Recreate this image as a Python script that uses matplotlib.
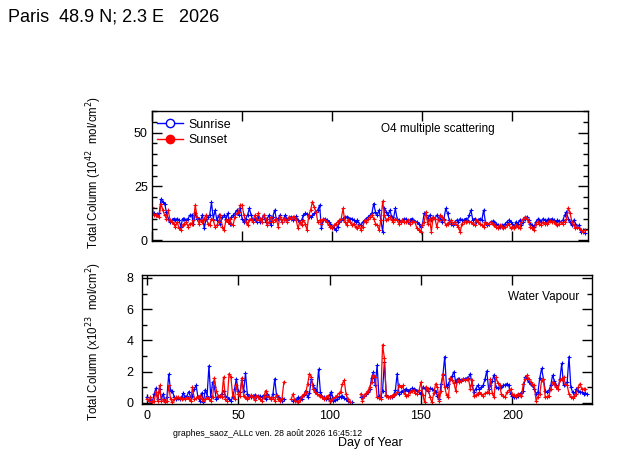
import numpy as np
import matplotlib.pyplot as plt
from matplotlib.lines import Line2D
from matplotlib.ticker import MultipleLocator

plt.rcParams['font.family'] = ['Liberation Sans', 'DejaVu Sans']

'''
SAOZ Paris - O4 and water vapour total columns, sunrise / sunset
'''

title = 'Paris  48.9 N; 2.3 E   2026'
footer = 'graphes_saoz_ALLc ven. 28 août 2026 16:45:12'

# ---- O4 multiple scattering (10^42 mol/cm2), day 0 .. 240 ----
o4_start = 0
o4_sunrise = [
    12.4, 12.4, 11.6, 12.0, 12.4, 19.0, 17.8, 17.0, 13.0, 10.0,
    8.5, 9.3, 10.0, 9.5, 10.0, 9.3, 6.2, 10.0, 10.0, 9.3,
    10.0, 11.6, 11.6, 7.7, 12.4, 10.0, 10.0, 9.3, 11.6, 5.4,
    10.0, 10.8, 11.6, 17.5, 10.0, 13.9, 9.3, 11.6, 7.7, 10.8,
    11.6, 10.0, 12.4, 7.7, 10.8, 11.6, 12.4, 13.9, 11.6, 14.7,
    10.0, 8.5, 10.0, 11.6, 14.7, 11.6, 9.3, 10.0, 8.5, 10.8,
    8.5, 10.0, 11.6, 8.5, 10.0, 11.6, 7.0, 10.8, 13.9, 10.0,
    10.0, 11.6, 8.5, 10.0, 11.6, 9.3, 10.4, 10.8, 9.3, 10.4,
    11.0, 9.3, 8.5, 9.3, 11.6, 12.4, 12.0, 10.8, 10.8, 11.6,
    12.4, 13.1, 14.0, 16.2, 5.4, 9.3, 10.0, 9.3, 8.5, 7.7,
    6.2, 5.4, 4.6, 6.2, 8.5, 9.3, 10.0, 10.8, 10.8, 10.4,
    10.0, 10.0, 9.3, 8.5, 9.3, 7.7, 7.0, 8.5, 9.3, 10.0,
    10.8, 11.6, 12.4, 17.0, 13.1, 11.6, 13.9, 9.3, 3.9, 14.7,
    13.1, 11.6, 13.9, 10.8, 10.0, 14.7, 10.0, 9.3, 8.5, 9.3,
    10.0, 9.7, 8.5, 9.3, 10.0, 9.3, 8.5, 8.5, 7.7, 6.2,
    7.0, 12.4, 11.6, 10.0, 11.6, 9.3, 10.8, 10.0, 11.6, 10.4,
    10.0, 8.5, 10.0, 14.7, 12.4, 9.3, 7.7, 7.0, 8.5, 9.3,
    8.5, 10.0, 9.3, 9.3, 10.0, 9.3, 11.6, 13.9, 9.3, 10.0,
    8.5, 9.3, 10.0, 9.3, 13.9, 8.5, 7.0, 7.7, 8.5, 8.8,
    8.5, 7.7, 7.0, 6.2, 7.0, 6.6, 7.7, 8.5, 9.3, 8.5,
    7.7, 6.2, 8.5, 7.7, 9.3, 7.0, 8.5, 10.0, 10.8, 9.3,
    7.7, 7.0, 6.2, 8.5, 9.7, 9.3, 8.5, 10.0, 9.3, 8.5,
    10.0, 9.3, 10.0, 9.3, 8.5, 9.3, 8.8, 8.5, 9.3, 11.6,
    13.1, 10.0, 8.5, 7.0, 9.3, 7.7, 6.2, 7.0, 3.9, 4.5,
    3.2,
]
o4_sunset = [
    15.5, 11.6, 11.6, 11.6, 10.8, 17.0, 13.9, 11.6, 10.0, 13.9,
    9.3, 8.5, 7.7, 6.2, 8.5, 5.4, 4.6, 7.0, 7.7, 8.5,
    6.2, 7.7, 7.7, 9.3, 16.2, 10.8, 7.7, 9.3, 8.5, 10.0,
    11.6, 7.7, 7.0, 10.0, 9.3, 6.2, 7.0, 8.5, 11.6, 6.2,
    4.6, 9.3, 8.5, 10.0, 7.7, 7.0, 10.8, 12.4, 13.1, 16.2,
    16.2, 11.6, 8.5, 7.0, 9.3, 10.0, 8.5, 11.6, 9.3, 12.4,
    10.0, 8.5, 11.6, 10.0, 7.0, 8.5, 10.8, 8.5, 9.3, 10.0,
    6.2, 10.8, 8.5, 10.0, 10.0, 8.5, 10.8, 10.0, 10.8, 10.8,
    9.3, 5.4, 8.5, 7.0, 9.3, 7.7, 4.6, 11.6, 13.9, 17.8,
    15.5, 13.1, 8.5, 9.3, 7.7, 10.0, 9.3, 8.5, 7.0, 6.2,
    5.4, 7.0, 7.7, 8.5, 9.3, 10.0, 14.7, 8.5, 7.0, 9.3,
    8.5, 7.0, 7.7, 6.2, 5.4, 7.0, 4.6, 6.2, 9.3, 8.5,
    10.0, 10.8, 11.6, 10.0, 7.7, 7.0, 4.6, 9.3, 18.1, 11.6,
    9.3, 10.0, 10.8, 9.3, 8.5, 10.0, 9.3, 7.7, 8.5, 9.3,
    8.5, 8.2, 9.3, 7.7, 8.5, 8.8, 8.2, 5.4, 4.6, 3.9,
    7.0, 8.5, 13.1, 7.7, 10.0, 3.9, 10.8, 10.0, 6.2, 9.3,
    11.6, 10.8, 9.3, 7.0, 7.7, 8.5, 9.3, 7.7, 8.5, 7.0,
    6.2, 3.6, 7.7, 8.5, 8.2, 8.8, 8.5, 8.5, 7.7, 7.0,
    9.3, 8.5, 7.7, 7.0, 6.2, 8.5, 7.7, 7.7, 8.5, 7.7,
    7.0, 6.2, 5.4, 7.0, 6.2, 5.4, 6.2, 7.0, 7.7, 5.4,
    6.2, 5.4, 7.0, 6.2, 5.4, 8.5, 10.0, 10.8, 10.0, 8.5,
    6.2, 5.4, 4.6, 7.7, 8.5, 7.7, 7.0, 8.5, 7.7, 7.7,
    8.5, 8.8, 8.2, 8.5, 7.7, 7.0, 7.7, 8.5, 7.7, 8.5,
    10.0, 15.0, 12.4, 8.5, 7.0, 5.4, 6.2, 5.4, 4.6, 3.6,
    4.6,
]

# ---- Water vapour (x10^23 mol/cm2), in segments (start day, values) ----
h2o_sunrise_a_start = 0
h2o_sunrise_a = [
    0.35, 0.13, 0.24, 0.02, 0.57, 0.93, 0.24, 0.89, 0.24, 0.57,
    0.13, 0.35, 1.83, 0.78, 0.78, 0.35, 0.24, 0.28, 0.24, 0.35,
    0.63, 0.35, 0.46, 0.72, 0.35, 0.46, 0.89, 1.11, 0.35, 0.13,
    0.63, 0.07, 0.85, 0.46, 2.37, 0.35, 1.33, 1.0, 0.24, 0.35,
    0.46, 0.57, 0.78, 0.46, 0.35, 0.24, 0.13, 0.35, 0.89, 1.54,
    0.78, 0.67, 1.43, 0.78, 1.89, 0.57, 0.46, 0.35, 0.46, 0.5,
    0.35, 0.46, 0.41, 0.35, 0.5, 0.24, 0.57, 0.35, 0.24, 0.57,
    1.54, 0.46, 0.35, 0.24, 0.13, 0.24,
]
h2o_sunrise_b_start = 80
h2o_sunrise_b = [
    0.13, 0.2, 0.24, 0.35, 0.3, 0.24, 0.5, 0.78, 0.35, 0.6,
    1.54, 1.11, 0.89, 0.7, 2.15, 0.67, 0.4, 0.35, 0.24, 0.3,
    0.5, 0.72, 0.13, 0.2, 0.24, 0.35, 0.4, 0.46, 0.3, 0.24,
    0.13, 0.07, 0.02,
]
h2o_sunrise_c_start = 117
h2o_sunrise_c = [
    0.35, 0.4, 0.46,
    0.55, 0.67, 0.89, 1.6, 1.97, 1.11, 2.4, 0.46, 0.35, 0.78,
    2.63, 0.5, 0.35, 0.35, 0.4, 0.5, 0.8, 1.87, 0.57, 0.7,
    0.78, 0.85, 0.89, 0.78, 0.85, 0.93, 0.89, 0.85, 0.78, 0.7,
    0.57, 1.0, 0.93, 0.89, 0.78, 0.93, 0.89, 0.85, 0.72, 0.46,
    0.24, 1.2, 1.76, 2.96, 1.0, 1.22, 1.5, 1.7, 1.98, 1.33,
    1.54, 1.5, 1.43, 1.5, 1.54, 1.59, 1.6, 1.87, 1.11, 0.67,
    0.9, 1.11, 0.89, 1.0, 1.11, 1.5, 2.04, 0.89, 1.11, 1.4,
    1.8, 1.0, 0.95, 0.93, 1.0, 1.11, 1.15, 1.22, 1.11, 0.57,
    0.46, 0.35, 0.4, 0.46, 0.57, 0.65, 0.78, 1.65, 1.54, 1.33,
    1.2, 1.11, 0.9, 0.57, 0.67, 1.6, 2.2, 1.54, 0.78, 0.67,
    0.8, 1.11, 1.76, 1.4, 1.11, 0.89, 1.5, 2.52, 1.11, 1.2,
    1.33, 2.96, 1.0, 0.67, 0.46, 0.89, 0.78, 0.72, 0.67, 0.57,
    0.6, 0.57,
]
h2o_sunset_a_start = 0
h2o_sunset_a = [
    0.24, 0.13, 0.35, 0.07, 0.13, 0.67, 0.13, 1.11, 0.13, 0.24,
    0.07, 0.13, 1.11, 0.24, 0.02, 0.24, 0.35, 0.35, 0.28, 0.24,
    0.28, 0.24, 0.35, 0.24, 0.13, 1.0, 0.24, 0.28, 0.35, 0.46,
    0.24, 0.13, 0.24, 0.35, 0.24, 0.13, 0.35, 1.6, 0.78, 0.46,
    0.46, 0.35, 1.65, 0.24, 0.13, 1.87, 1.65, 0.46, 0.24, 1.11,
    0.57, 0.46, 1.6, 0.46, 0.35, 0.24, 0.35, 0.5, 0.35, 0.2,
    0.46, 0.35, 0.24, 0.13, 0.35, 0.78, 0.46, 0.35, 0.24, 0.35,
    0.13, 0.5, 0.24, 0.13, 0.3, 1.33,
]
h2o_sunset_b_start = 79
h2o_sunset_b = [
    0.24, 0.57, 0.13, 0.1, 0.07, 0.2, 0.46, 0.55, 0.67, 1.22, 1.87,
    1.65, 0.89, 0.7, 0.57, 0.5, 0.46, 0.35, 0.24, 0.35, 0.46,
    0.13, 0.2, 0.3, 0.35, 0.46, 0.6, 0.67, 1.22, 1.43, 0.57,
    0.24, 0.02,
]
h2o_sunset_c_start = 117
h2o_sunset_c = [
    0.57, 0.13, 0.46,
    0.6, 0.78, 1.0, 1.33, 1.8, 1.65, 0.35, 0.3, 0.24, 3.72,
    2.85, 0.46, 0.35, 0.4, 0.46, 0.5, 0.57, 0.67, 1.11, 1.0,
    1.11, 0.57, 0.46, 0.5, 0.67, 0.75, 0.78, 0.6, 0.57, 0.8,
    1.33, 0.5, 0.02, 1.0, 0.89, 0.35, 0.02, 0.6, 1.22, 1.0,
    0.13, 0.78, 1.87, 1.0, 0.5, 0.35, 1.59, 1.43, 1.3, 0.78,
    1.43, 1.33, 1.4, 1.54, 1.43, 1.5, 1.54, 0.89, 1.43, 0.46,
    0.5, 0.57, 0.67, 0.55, 0.46, 0.6, 0.67, 0.6, 1.54, 0.6,
    0.35, 1.65, 1.3, 1.11, 0.57, 0.46, 0.35, 0.67, 0.8, 0.89,
    0.57, 0.5, 0.46, 0.57, 0.5, 0.46, 1.22, 1.5, 1.76, 1.54,
    1.33, 1.2, 1.11, 0.13, 0.4, 0.57, 1.43, 1.54, 0.35, 0.4,
    0.46, 0.89, 1.33, 1.2, 1.0, 0.9, 1.43, 1.54, 1.65, 1.22,
    1.11, 0.57, 0.35, 0.3, 0.46, 0.57, 1.0, 1.22, 0.89, 0.89,
    0.89,
]

BLUE = '#0000ff'
RED = '#ff0000'


def plot_series(ax, start, values, color):
    days = start + np.arange(len(values))
    ax.plot(days, values, color=color, lw=0.9, marker='+', ms=3, mew=0.8)


def style_axis(ax, pad):
    ax.tick_params(which='both', direction='in', top=True, right=True,
                   labelsize=9, pad=pad, width=1)
    ax.tick_params(which='major', length=7)
    ax.tick_params(which='minor', length=3.5)
    for s in ax.spines.values():
        s.set_linewidth(1)


fig = plt.figure(figsize=(6.23, 4.55), dpi=100)

fig.text(0.013, 0.962, title, fontsize=13, ha='left', va='center')

# top panel: O4
ax1 = fig.add_axes([0.244, 0.470, 0.700, 0.286])
plot_series(ax1, o4_start, o4_sunrise, BLUE)
plot_series(ax1, o4_start, o4_sunset, RED)
ax1.set_xlim(0, 242)
ax1.set_ylim(-0.5, 60)
ax1.set_xticks([0, 50, 100, 150, 200])
ax1.set_xticklabels([])
ax1.set_yticks([0, 25, 50])
ax1.yaxis.set_minor_locator(MultipleLocator(5))
style_axis(ax1, 3)
ax1.set_ylabel('Total Column (10$^{42}$  mol/cm$^{2}$)', fontsize=8.3)
ax1.yaxis.set_label_coords(-0.11, 0.53)
ax1.text(0.525, 0.862, 'O4 multiple scattering', transform=ax1.transAxes,
         fontsize=8.5, ha='left', va='center')

handles = [
    Line2D([], [], color=BLUE, lw=1, marker='o', ms=6, mfc='white', mec=BLUE),
    Line2D([], [], color=RED, lw=1, marker='o', ms=6, mfc=RED, mec=RED),
]
ax1.legend(handles, ['Sunrise', 'Sunset'], loc='upper left',
           bbox_to_anchor=(0.012, 0.94), frameon=False, fontsize=9,
           handlelength=2.1, handletextpad=0.4, borderaxespad=0,
           borderpad=0, labelspacing=0.25)

# bottom panel: water vapour
ax2 = fig.add_axes([0.228, 0.112, 0.722, 0.284])
plot_series(ax2, h2o_sunrise_a_start, h2o_sunrise_a, BLUE)
plot_series(ax2, h2o_sunrise_b_start, h2o_sunrise_b, BLUE)
plot_series(ax2, h2o_sunrise_c_start, h2o_sunrise_c, BLUE)
plot_series(ax2, h2o_sunset_a_start, h2o_sunset_a, RED)
plot_series(ax2, h2o_sunset_b_start, h2o_sunset_b, RED)
plot_series(ax2, h2o_sunset_c_start, h2o_sunset_c, RED)
ax2.set_xlim(-2.6, 243.5)
ax2.set_ylim(-0.08, 8.2)
ax2.set_xticks([0, 50, 100, 150, 200])
ax2.set_yticks([0, 2, 4, 6, 8])
ax2.yaxis.set_minor_locator(MultipleLocator(1))
style_axis(ax2, 6)
ax2.tick_params(axis='x', pad=4)
ax2.set_ylabel('Total Column (x10$^{23}$  mol/cm$^{2}$)', fontsize=8.3)
ax2.yaxis.set_label_coords(-0.085, 0.48)
ax2.text(0.973, 0.83, 'Water Vapour', transform=ax2.transAxes,
         fontsize=8.5, ha='right', va='center')

fig.text(0.278, 0.048, footer, fontsize=6.3, ha='left', va='center')
fig.text(0.594, 0.027, 'Day of Year', fontsize=9, ha='center', va='center')

fig.savefig('out.png', dpi=100)
